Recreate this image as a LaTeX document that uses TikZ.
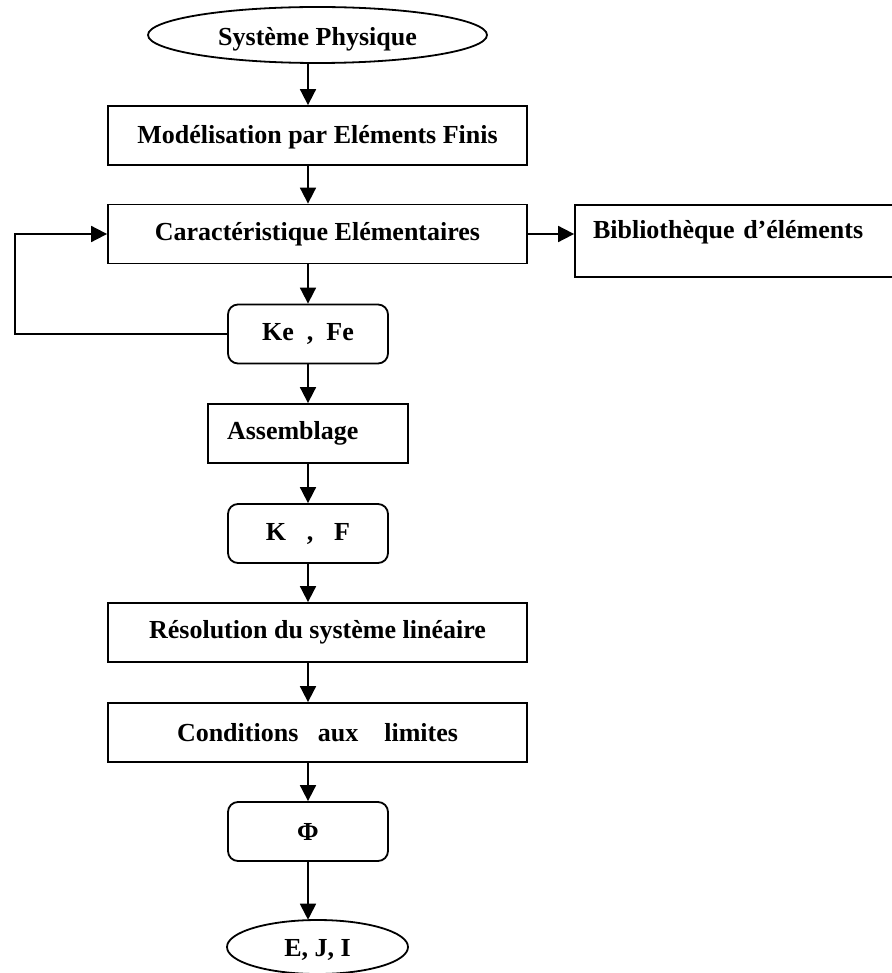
\documentclass[tikz,border=0pt]{standalone}
\usepackage{fontspec}
\setmainfont{Liberation Serif}
\usetikzlibrary{arrows.meta,shapes.geometric}
\begin{document}
\begin{tikzpicture}[x=0.5pt,y=-0.5pt,
		every node/.style={font=\bfseries\fontsize{13}{15}\selectfont},
		box/.style={draw,line width=0.9pt,inner sep=0pt,minimum height=29.5pt},
		rbox/.style={box,rounded corners=5pt,minimum width=80pt},
		oval/.style={draw,line width=0.9pt,ellipse,inner sep=0pt,minimum height=28pt},
		arr/.style={line width=0.9pt,-{Triangle[length=8pt,width=8pt]}}]
	\useasboundingbox (0,0) rectangle (891,973);
	\node[oval,minimum width=169.5pt,text height=13.5pt] (sys) at (317.5,35) {Système Physique};
	\node[box,minimum width=209.5pt,text height=11pt] (mod) at (317.5,135.5) {Modélisation par Eléments Finis};
	\node[box,minimum width=209.5pt] (car) at (317.5,234) {Caractéristique Elémentaires};
	\node[box,minimum width=162.5pt,minimum height=36pt,text depth=12pt,inner xsep=9pt,text width=144.5pt,align=left] (bib) at (737.5,241) {Bibliothèque d’éléments};
	\node[rbox] (kefe) at (308,334) {Ke\ \ ,\ \ Fe};
	\node[box,minimum width=100pt,inner xsep=9.5pt,text width=81pt,align=left] (ass) at (308,433.5) {Assemblage};
	\node[rbox] (kf) at (308,533.5) {K\hspace{0.8em},\hspace{0.8em}F};
	\node[box,minimum width=209.5pt] (res) at (317.5,632.5) {Résolution du système linéaire};
	\node[box,minimum width=209.5pt] (cond) at (317.5,732.5) {Conditions~~~aux~~~~limites};
	\node[rbox] (phi) at (308,831.5) {Φ};
	\node[oval,minimum width=90.5pt,minimum height=27pt,text height=11pt] (res2) at (317.5,947) {E, J, I};
	\coordinate (ax) at (308,0);
	\coordinate (back) at (15,0);
	\draw[arr] (sys.south -| ax) -- (mod.north -| ax);
	\draw[arr] (mod.south -| ax) -- (car.north -| ax);
	\draw[arr] (car.south -| ax) -- (kefe.north);
	\draw[arr] (car.east) -- (car.east -| bib.west);
	\draw[arr] (kefe.west) -- (kefe.west -| back) |- (car.west);
	\draw[arr] (kefe.south) -- (ass.north);
	\draw[arr] (ass.south) -- (kf.north);
	\draw[arr] (kf.south) -- (res.north -| ax);
	\draw[arr] (res.south -| ax) -- (cond.north -| ax);
	\draw[arr] (cond.south -| ax) -- (phi.north);
	\draw[arr] (phi.south) -- ([yshift=-0.3pt]res2.north -| ax);
\end{tikzpicture}
\end{document}
